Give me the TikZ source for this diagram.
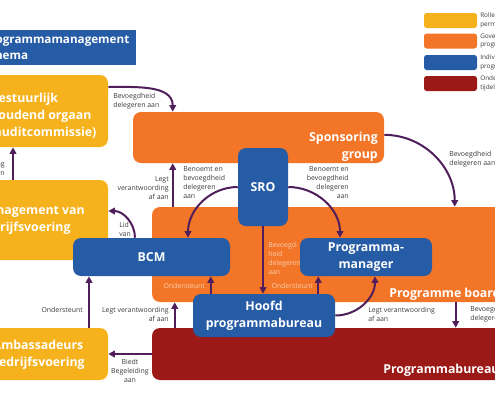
\documentclass[tikz,border=0pt]{standalone}
\usepackage{fontspec}
\setmainfont{Open Sans}
\usepackage{xcolor}
\usetikzlibrary{arrows.meta, positioning}

\definecolor{cYellow}{RGB}{246,178,28}
\definecolor{cOrange}{RGB}{242,117,40}
\definecolor{cBlue}{RGB}{38,92,166}
\definecolor{cRed}{RGB}{155,25,22}
\definecolor{cArrow}{RGB}{80,30,90}
\definecolor{cPeach}{RGB}{252,206,172}
\definecolor{cLabel}{RGB}{60,60,60}

\begin{document}
\begin{tikzpicture}[x=0.75pt, y=-0.75pt, >={Triangle[length=5pt,width=5pt]},
		yellowbox/.style={fill=cYellow, rounded corners=6pt, inner sep=0pt},
		orangebox/.style={fill=cOrange, rounded corners=6pt, inner sep=0pt},
		bluebox/.style={fill=cBlue, rounded corners=6pt, inner sep=0pt, text=white, align=center, font=\fontsize{9.25}{13}\selectfont\bfseries},
		redbox/.style={fill=cRed, rounded corners=6pt, inner sep=0pt},
		swatch/.style={rounded corners=2pt, minimum width=39.75pt, minimum height=11.25pt, inner sep=0pt},
		boxtext/.style={text=white, inner sep=0pt, font=\fontsize{9.25}{12.75}\selectfont\bfseries},
		lbl/.style={text=cLabel, inner sep=0pt, font=\fontsize{5.2}{6.75}\selectfont},
		plbl/.style={lbl, text=cPeach},
		legend/.style={text=cLabel, inner sep=0pt, align=left, anchor=west, font=\fontsize{4.8}{6.6}\selectfont},
		arr/.style={draw=cArrow, line width=1.5pt}
		]
		\clip (0,0) rectangle (495,400);
		
		\node [orangebox, minimum width=276pt, minimum height=71.25pt](board) at (336,254.5) {};
		\node [redbox, minimum width=276pt, minimum height=39pt](bureau) at (336,354) {};
		\node [orangebox, minimum width=188.25pt, minimum height=38.25pt](spons) at (258.5,137.5) {};
		
		\node [fill=cBlue, minimum width=124.5pt, minimum height=26.25pt, inner sep=0pt](title) at (53,47.5) {};
		\node [yellowbox, minimum width=96pt, minimum height=54pt](bst) at (44,111) {};
		\node [yellowbox, minimum width=96pt, minimum height=60pt](mgmt) at (44,220) {};
		\node [yellowbox, minimum width=96pt, minimum height=39pt](amb) at (44,354) {};
		
		\node [bluebox, minimum width=37.5pt, minimum height=58.5pt](sro) at (263,187) {SRO};
		\node [bluebox, minimum width=117.75pt, minimum height=28.5pt](bcm) at (151.5,257) {BCM};
		\node [bluebox, minimum width=99pt, minimum height=28.5pt](pm) at (366,257) {Programma-\\manager};
		\node [bluebox, minimum width=106.5pt, minimum height=32.25pt](hoofd) at (264,315.5) {Hoofd\\programmabureau};
		
		\node [boxtext, anchor=west, align=left, font=\fontsize{8.75}{11.5}\selectfont\bfseries](titletext) at (-17,47.5) {Programmamanagement\\schema};
		\node [boxtext, anchor=west, align=left](bsttext) at (-10,116) {Bestuurlijk\\houdend orgaan\\(auditcommissie)};
		\node [boxtext, anchor=west, align=left](mgmttext) at (-23,220.5) {Management van\\bedrijfsvoering};
		\node [boxtext, align=center](ambtext) at (38,354.5) {Ambassadeurs\\bedrijfsvoering};
		\node [boxtext, anchor=east, align=right](sponstext) at (378,147) {Sponsoring\\group};
		\node [boxtext, anchor=west](boardtext) at (389,294) {Programme board};
		\node [boxtext, anchor=west](bureautext) at (383,370) {Programmabureau};
		
		\node [swatch, fill=cYellow](sw1) at (450.5,20.5) {};
		\node [swatch, fill=cOrange](sw2) at (450.5,41) {};
		\node [swatch, fill=cBlue](sw3) at (450.5,62.5) {};
		\node [swatch, fill=cRed](sw4) at (450.5,83.5) {};
		\node [legend](lg1) at (480,20.5) {Rollen\\permanent};
		\node [legend](lg2) at (480,41) {Governance\\programma};
		\node [legend](lg3) at (480,62.5) {Individuele\\programma};
		\node [legend](lg4) at (480,83.5) {Ondersteuning\\tijdelijk};
		
		\draw[arr, ->] ([yshift=18pt]bst.east) to[out=0, in=90] ([xshift=30pt]spons.north west);
		\node [lbl, anchor=west, align=left](l1) at (113,101) {Bevoegdheid\\delegeren aan};
		
		\draw[arr, ->] ([xshift=-23.25pt]mgmt.north) -- ([xshift=-23.25pt]bst.south);
		\node [lbl, anchor=east, align=right](l2) at (5,168) {Legt verantwoording\\af aan};
		
		\draw[arr, ->] ([xshift=-12.4pt]bcm.north) to[out=90, in=0] ([yshift=6.75pt]mgmt.east);
		\node [lbl, anchor=west, align=left](l3) at (119,229) {Lid\\van};
		
		\draw[arr, ->] ([xshift=15.75pt]board.north west) -- ([xshift=30pt]spons.south west);
		\node [lbl, anchor=east, align=right](l4) at (169,188) {Legt\\verantwoording\\af aan};
		
		\draw[arr, ->] (sro.west) to[out=180, in=90] ([xshift=27.4pt]bcm.north);
		\node [lbl, anchor=west, align=left](l5) at (183,182.5) {Benoemt en\\bevoegdheid\\delegeren\\aan};
		
		\draw[arr, ->] (sro.east) to[out=0, in=90] ([xshift=-19.5pt]pm.north);
		\node [lbl, anchor=east, align=right](l6) at (349,182.5) {Benoemt en\\bevoegdheid\\delegeren\\aan};
		
		\draw[arr, ->] ([yshift=2pt]spons.east) to[out=0, in=90] ([xshift=227.25pt]board.north west);
		\node [lbl, anchor=west, align=left](l7) at (449,159) {Bevoegdheid\\delegeren aan};
		
		\draw[arr, ->] (sro.south) -- (sro.south |- hoofd.north);
		\node [plbl, anchor=west, align=left](l8) at (268,258) {Bevoegd-\\heid\\delegeren\\aan};
		
		\draw[arr, ->] ([xshift=13.5pt]hoofd.north west) -- ([xshift=13.5pt]hoofd.north west |- bcm.south);
		\node [plbl, anchor=east](l9) at (205,286) {Ondersteunt};
		
		\draw[arr, ->] ([xshift=-12.75pt]hoofd.north east) -- ([xshift=-12.75pt]hoofd.north east |- pm.south);
		\node [plbl, anchor=east](l10) at (313,286) {Ondersteunt};
		
		\draw[arr, ->] (hoofd.east) to[out=0, in=-90] ([xshift=6.75pt]pm.south);
		\node [lbl, anchor=west, align=left](l11) at (368,314) {Legt verantwoording\\af aan};
		
		\draw[arr, ->] ([xshift=228pt]board.south west) -- ([xshift=228pt]board.south west |- bureau.north);
		\node [lbl, anchor=west, align=left](l12) at (470,314) {Bevoegdheid\\delegeren aan};
		
		\draw[arr, ->] ([xshift=17.25pt]bureau.north west) -- ([xshift=17.25pt]bureau.north west |- board.south);
		\node [lbl, anchor=east, align=right](l13) at (169,314) {Legt verantwoording\\af aan};
		
		\draw[arr, ->] ([xshift=33.75pt]amb.north) -- ([xshift=33.75pt]amb.north |- bcm.south);
		\node [lbl, anchor=east](l14) at (83,310) {Ondersteunt};
		
		\draw[arr, ->] (bureau.west) -- (amb.east);
		\node [lbl, align=center](l15) at (130,371) {Biedt\\Begeleiding\\aan};
		
	\end{tikzpicture}
\end{document}
